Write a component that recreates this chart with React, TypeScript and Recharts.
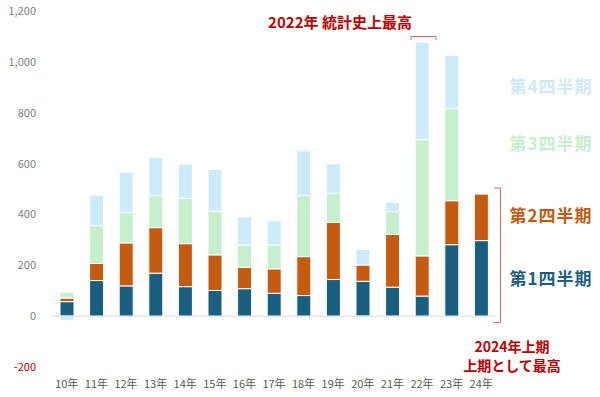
import React from 'react';
import { BarChart, Bar, XAxis, YAxis, ReferenceLine } from 'recharts';

const categories = ['10年', '11年', '12年', '13年', '14年', '15年', '16年', '17年', '18年', '19年', '20年', '21年', '22年', '23年', '24年'];
const q1 = [57, 140, 119, 169, 116, 101, 108, 90, 81, 144, 137, 114, 79, 281, 297];
const q2 = [14, 67, 169, 179, 169, 140, 84, 96, 153, 225, 64, 207, 158, 173, 183];
const q3 = [23, 149, 120, 126, 178, 171, 88, 94, 240, 114, -7, 90, 457, 363, null];
const q4 = [-18, 120, 158, 149, 135, 165, 110, 94, 176, 116, 61, 37, 382, 209, null];
const yTicks = [-200, 0, 200, 400, 600, 800, 1000, 1200];

const data = categories.map((c, i) => ({ name: c, q1: q1[i], q2: q2[i], q3: q3[i], q4: q4[i] }));

const C1 = '#1b5f80';
const C2 = '#c55a11';
const C3 = '#c6efce';
const C4 = '#cdeaf9';
const RED = '#c00000';
const FONT = '"Noto Sans CJK JP", "Noto Sans", sans-serif';

const YTick = (props: any) => {
  const { x, y, payload } = props;
  const v = payload.value as number;
  return (
    <text x={x} y={y} dy={4} textAnchor="end" fontSize={11} fontFamily={FONT} fill={v < 0 ? RED : '#808080'}>
      {v.toLocaleString('en-US')}
    </text>
  );
};

const legendItems = [
  { label: '第4四半期', color: C4, top: 75 },
  { label: '第3四半期', color: C3, top: 132 },
  { label: '第2四半期', color: C2, top: 204 },
  { label: '第1四半期', color: C1, top: 267 },
];

export default function App() {
  return (
    <div style={{ position: 'absolute', left: 0, top: 0, width: 600, height: 397, background: '#fff', fontFamily: FONT }}>
      <BarChart
        width={600}
        height={397}
        data={data}
        stackOffset="sign"
        margin={{ top: 11, right: 104, bottom: 0, left: 0 }}
        barSize={14}
      >
        <XAxis
          dataKey="name"
          axisLine={false}
          tickLine={false}
          tickSize={0}
          tickMargin={13}
          height={30}
          tick={{ fontSize: 11, fill: '#595959', fontFamily: FONT }}
          interval={0}
        />
        <YAxis
          domain={[-200, 1200]}
          ticks={yTicks}
          axisLine={false}
          tickLine={false}
          tickSize={0}
          tickMargin={16}
          width={52}
          tick={<YTick />}
          interval={0}
        />
        <ReferenceLine y={0} stroke="#d9d9d9" strokeWidth={1} />
        <Bar dataKey="q1" stackId="a" fill={C1} stroke="#fff" strokeWidth={1} isAnimationActive={false} />
        <Bar dataKey="q2" stackId="a" fill={C2} stroke="#fff" strokeWidth={1} isAnimationActive={false} />
        <Bar dataKey="q3" stackId="a" fill={C3} stroke="#fff" strokeWidth={1} isAnimationActive={false} />
        <Bar dataKey="q4" stackId="a" fill={C4} stroke="#fff" strokeWidth={1} isAnimationActive={false} />
      </BarChart>

      <svg width={600} height={397} style={{ position: 'absolute', left: 0, top: 0, pointerEvents: 'none' }}>
        <polyline points="411,40 411,36.5 436,36.5 436,40" fill="none" stroke="#e06666" strokeWidth={1} />
        <polyline points="494,188 500.5,188 500.5,322.5 494,322.5" fill="none" stroke="#e06666" strokeWidth={1} />
      </svg>

      <div style={{ position: 'absolute', left: 240, top: 12, width: 200, textAlign: 'center', color: RED, fontWeight: 700, fontSize: 15, lineHeight: '20px' }}>
        2022年 統計史上最高
      </div>
      <div style={{ position: 'absolute', left: 452, top: 337, width: 120, textAlign: 'center', color: RED, fontWeight: 700, fontSize: 14, lineHeight: '19px' }}>
        2024年上期
        <br />
        上期として最高
      </div>
      {legendItems.map((it) => (
        <div key={it.label} style={{ position: 'absolute', left: 501, top: it.top, width: 100, textAlign: 'center', color: it.color, fontWeight: 700, fontSize: 17, letterSpacing: 1, lineHeight: '22px' }}>
          {it.label}
        </div>
      ))}
    </div>
  );
}
